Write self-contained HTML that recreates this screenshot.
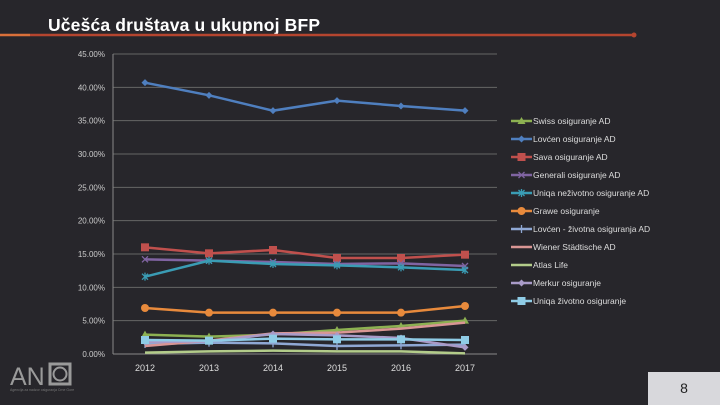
<!DOCTYPE html>
<html><head><meta charset="utf-8"><style>
body{margin:0;width:720px;height:405px;background:#27262b;overflow:hidden;font-family:"Liberation Sans",sans-serif}
svg{position:absolute;left:0;top:0}
</style></head><body>
<svg width="720" height="405">
<text x="48" y="31" fill="#fff" font-size="17.5" font-weight="bold" textLength="272">Učešća društava u ukupnoj BFP</text>
<line x1="0" y1="35" x2="30" y2="35" stroke="#d9703a" stroke-width="2.5"/>
<line x1="30" y1="35" x2="634" y2="35" stroke="#b5452f" stroke-width="2.5"/>
<circle cx="634" cy="35" r="2.5" fill="#b5452f"/>
<g id="grid"></g><g id="series"></g><g id="legend"></g>
<g>
<text x="10" y="385" fill="#9a9a9a" font-size="25">AN</text>
<rect x="50" y="364" width="20" height="20" fill="none" stroke="#9a9a9a" stroke-width="3"/>
<circle cx="60" cy="374" r="6.5" fill="none" stroke="#9a9a9a" stroke-width="2"/>
<text x="10" y="391" fill="#777" font-size="3.5">Agencija za nadzor osiguranja Crne Gore</text>
</g>
<rect x="648" y="372" width="72" height="33" fill="#d8d8dc"/>
<text x="684" y="393" fill="#222" font-size="14" text-anchor="middle">8</text>
</svg>
<script>
const years=["2012","2013","2014","2015","2016","2017"];
const yTicks=[0,5,10,15,20,25,30,35,40,45];
const names=["Swiss osiguranje AD","Lovćen osiguranje AD","Sava osiguranje AD","Generali osiguranje AD","Uniqa neživotno osiguranje AD","Grawe osiguranje","Lovćen - životna osiguranja AD","Wiener Städtische AD","Atlas Life","Merkur osiguranje","Uniqa životno osiguranje"];
const colors=["#8db152","#4f7fbf","#c0504d","#8064a2","#3a9cb4","#e88a3c","#8fa8d4","#d99694","#b3cc8a","#a99bc8","#8fcce6"];
const markers=["tri","dia","sq","x","star","circ","dash","none","none","dia","sq"];
const sSwiss=[2.9,2.6,2.9,3.6,4.2,5.0];
const sLovcen=[40.7,38.8,36.5,38.0,37.2,36.5];
const sSava=[16.0,15.1,15.6,14.4,14.4,14.9];
const sGenerali=[14.2,14.0,13.8,13.5,13.6,13.2];
const sUniqaN=[11.6,14.0,13.5,13.3,13.0,12.6];
const sGrawe=[6.9,6.2,6.2,6.2,6.2,7.2];
const sLovcenZ=[1.5,1.7,1.6,1.2,1.3,1.4];
const sWiener=[1.2,2.0,3.1,3.2,3.8,4.7];
const sAtlas=[0.2,0.4,0.5,0.4,0.4,0.1];
const sMerkur=[1.8,1.9,3.0,2.8,2.4,1.0];
const sUniqaZ=[2.1,2.0,2.3,2.2,2.2,2.1];
const series=[sSwiss,sLovcen,sSava,sGenerali,sUniqaN,sGrawe,sLovcenZ,sWiener,sAtlas,sMerkur,sUniqaZ];
const NS="http://www.w3.org/2000/svg";
const X0=113,X1=497,Y0=354,Y1=54;
const xs=i=>X0+(X1-X0)/6*(i+0.5);
const ys=v=>Y0-(v/45)*(Y0-Y1);
function mk(t,a,p){const e=document.createElementNS(NS,t);for(const k in a)e.setAttribute(k,a[k]);p.appendChild(e);return e;}
const grid=document.getElementById('grid');
yTicks.forEach(v=>{
 const l=mk('line',{x1:X0,x2:X1,y1:ys(v),y2:ys(v),stroke:v===0?'#888':'#666','stroke-width':1},grid);
 
 
 const t=mk('text',{x:X0-8,y:ys(v)+3,fill:'#ccc','font-size':8,'text-anchor':'end'},grid);
 t.textContent=v.toFixed(2)+'%';
 
 
});
mk('line',{x1:X0,x2:X0,y1:Y1,y2:Y0,stroke:'#888'},grid);
years.forEach((y,i)=>{
 const t=mk('text',{x:xs(i),y:371,fill:'#ddd','font-size':9,'text-anchor':'middle'},grid);
 t.textContent=y;
 
 
});
function marker(m,x,y,c,g){
 if(m==='circ')mk('circle',{cx:x,cy:y,r:4,fill:c},g);
 else if(m==='sq')mk('rect',{x:x-4,y:y-4,width:8,height:8,fill:c},g);
 else if(m==='dia')mk('polygon',{points:`${x},${y-3.5} ${x+3.5},${y} ${x},${y+3.5} ${x-3.5},${y}`,fill:c},g);
 else if(m==='tri')mk('polygon',{points:`${x},${y-4} ${x+4},${y+3} ${x-4},${y+3}`,fill:c},g);
 else if(m==='x'||m==='star'){mk('path',{d:`M${x-3},${y-3}L${x+3},${y+3}M${x-3},${y+3}L${x+3},${y-3}`+(m==='star'?`M${x},${y-4}V${y+4}`:''),stroke:c,'stroke-width':1.3},g);}
 else if(m==='dash')mk('line',{x1:x,x2:x,y1:y-4,y2:y+4,stroke:c,'stroke-width':1.3},g);
}
const sg=document.getElementById('series');
series.forEach((s,k)=>{
 const g=mk('g',{},sg);
 
 
 mk('polyline',{points:s.map((v,i)=>xs(i)+','+ys(v)).join(' '),fill:'none',stroke:colors[k],'stroke-width':2.5},g);
 s.forEach((v,i)=>marker(markers[k],xs(i),ys(v),colors[k],g));
});
const lg=document.getElementById('legend');
names.forEach((n,k)=>{
 const y=121+k*18;
 const g=mk('g',{},lg);
 
 
 mk('line',{x1:511,x2:532,y1:y,y2:y,stroke:colors[k],'stroke-width':2.5},g);
 marker(markers[k],521.5,y,colors[k],g);
 const t=mk('text',{x:533,y:y+3,fill:'#ddd','font-size':8.5},g);
 t.textContent=n;
});
</script>
</body></html>
